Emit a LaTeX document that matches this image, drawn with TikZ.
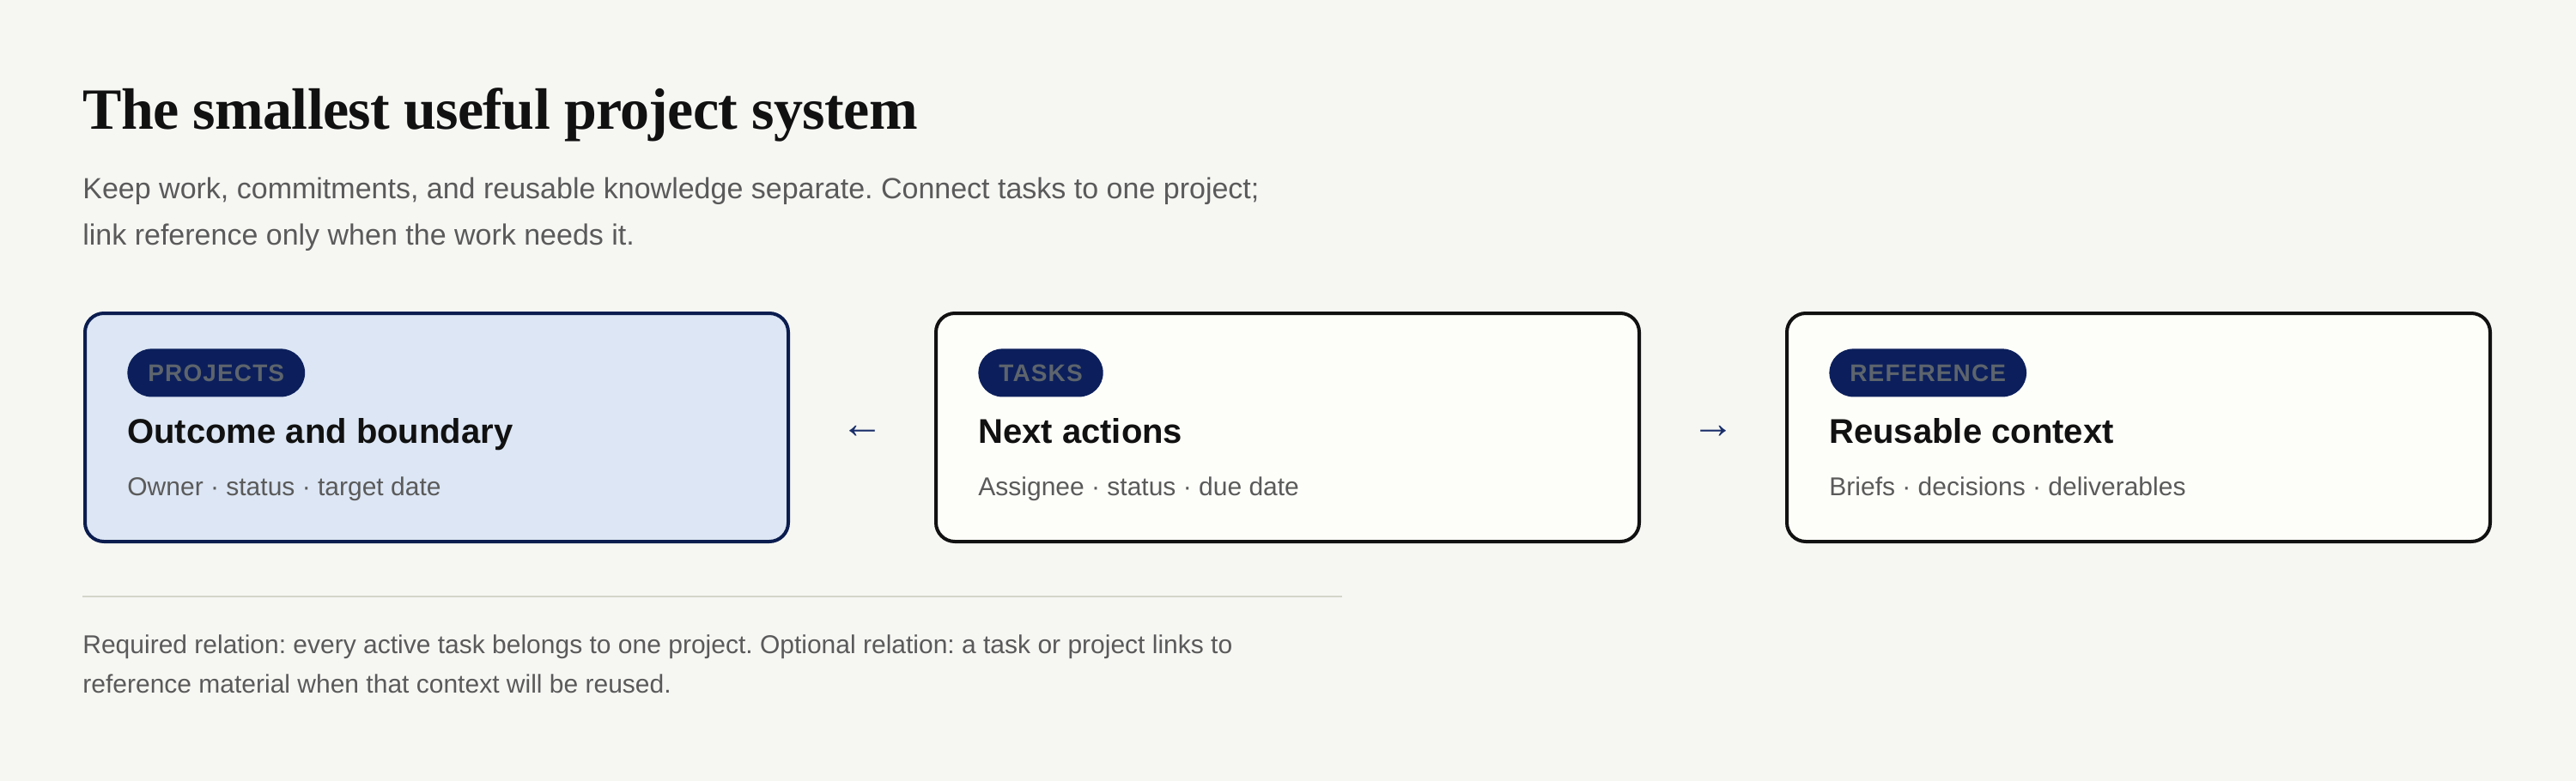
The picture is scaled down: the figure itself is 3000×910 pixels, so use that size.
\documentclass[tikz,border=0pt]{standalone}
\usepackage{fontspec}
\setmainfont{Liberation Sans}
\newfontfamily\titlefont{Liberation Serif}
\usetikzlibrary{positioning,calc}
\frenchspacing

\definecolor{paper}{HTML}{F6F7F3}
\definecolor{ink}{HTML}{111111}
\definecolor{muted}{HTML}{5A5A5A}
\definecolor{navy}{HTML}{0C1F5C}
\definecolor{navyline}{HTML}{0B1D4F}
\definecolor{sky}{HTML}{DCE6F4}
\definecolor{card}{HTML}{FDFDF9}
\definecolor{tagtext}{HTML}{5D646C}
\definecolor{rulecolor}{HTML}{D3D5C9}
\definecolor{linkcolor}{HTML}{1A2F6A}

\tikzset{
  cardbox/.style={draw=ink,fill=card,line width=2pt,rounded corners=11pt,
    minimum width=409.5pt,minimum height=133pt,inner sep=0pt,outer sep=0pt},
  activecard/.style={cardbox,draw=navyline,fill=sky},
  tag/.style={fill=navy,text=tagtext,rounded corners=14pt,minimum height=28pt,
    inner xsep=12pt,inner ysep=0pt,
    font=\fontsize{14}{14}\selectfont\bfseries\addfontfeatures{LetterSpace=4}},
  cardtitle/.style={text=ink,inner sep=0pt,font=\fontsize{20}{24}\selectfont\bfseries},
  cardnote/.style={text=muted,inner sep=0pt,font=\fontsize{15}{18}\selectfont},
  headline/.style={text=ink,inner sep=0pt,
    font=\titlefont\fontsize{34}{40}\selectfont\bfseries\addfontfeatures{LetterSpace=-1}},
  lede/.style={text=muted,inner sep=0pt,align=left,font=\fontsize{17}{27}\selectfont},
  footnote/.style={text=muted,inner sep=0pt,align=left,font=\fontsize{15}{23}\selectfont},
  link/.style={text=linkcolor,inner sep=0pt,yshift=-2.5pt,font=\fontsize{25}{28}\selectfont}
}

\begin{document}
\begin{tikzpicture}[x=0.5pt,y=-0.5pt,node distance=86pt]
  \fill[paper] (0,0) rectangle (3000,910);
  \useasboundingbox (0,0) rectangle (3000,910);

  % heading
  \node[headline,anchor=base west] (title) at (96,150) {The smallest useful project system};
  \node[lede,anchor=base west] (intro) at (96,285)
    {Keep work, commitments, and reusable knowledge separate. Connect tasks to one project;\\
     link reference only when the work needs it.};

  % the three cards
  \node[activecard] (projects) at (508.5,498) {};
  \node[cardbox,right=of projects] (tasks) {};
  \node[cardbox,right=of tasks] (reference) {};

  \node[tag,below right=20.5pt and 24.5pt of projects.north west] (projects-tag) {PROJECTS};
  \node[cardtitle,below=27pt of projects-tag.south west,anchor=base west] (projects-title) {Outcome and boundary};
  \node[cardnote,below=30.5pt of projects-title.base west,anchor=base west] (projects-note) {Owner · status · target date};

  \node[tag,below right=20.5pt and 24.5pt of tasks.north west] (tasks-tag) {TASKS};
  \node[cardtitle,below=27pt of tasks-tag.south west,anchor=base west] (tasks-title) {Next actions};
  \node[cardnote,below=30.5pt of tasks-title.base west,anchor=base west] (tasks-note) {Assignee · status · due date};

  \node[tag,below right=20.5pt and 24.5pt of reference.north west] (reference-tag) {REFERENCE};
  \node[cardtitle,below=27pt of reference-tag.south west,anchor=base west] (reference-title) {Reusable context};
  \node[cardnote,below=30.5pt of reference-title.base west,anchor=base west] (reference-note) {Briefs · decisions · deliverables};

  % relations
  \node[link] (belongs) at ($(projects.east)!0.5!(tasks.west)$) {←};
  \node[link] (uses) at ($(tasks.east)!0.5!(reference.west)$) {→};

  % note
  \draw[rulecolor,line width=1pt] (96,695) -- (1563,695);
  \node[footnote,anchor=base west] (rules) at (96,807)
    {Required relation: every active task belongs to one project. Optional relation: a task or project links to\\
     reference material when that context will be reused.};
\end{tikzpicture}
\end{document}
